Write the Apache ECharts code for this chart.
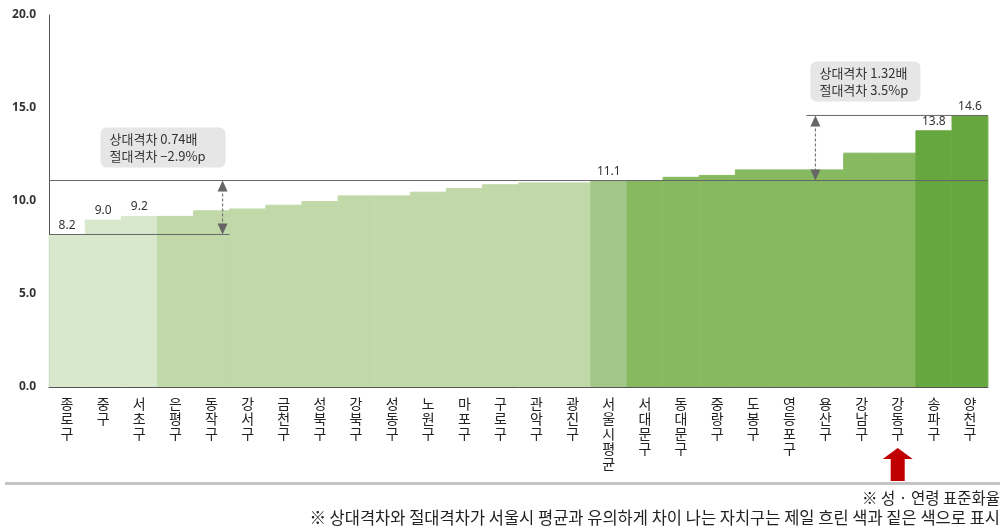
<!DOCTYPE html>
<html>
<head>
<meta charset="utf-8">
<script src="https://cdn.jsdelivr.net/npm/echarts@6/dist/echarts.min.js"></script>
<style>
html,body{margin:0;padding:0;background:#fff;}
#c{width:1007px;height:529px;}
</style>
</head>
<body>
<div id="c"></div>
<script>
const categories = ['종로구','중구','서초구','은평구','동작구','강서구','금천구','성북구','강북구','성동구','노원구','마포구','구로구','관악구','광진구','서울시평균','서대문구','동대문구','중랑구','도봉구','영등포구','용산구','강남구','강동구','송파구','양천구'];
const values = [8.2,9.0,9.2,9.2,9.5,9.6,9.8,10.0,10.3,10.3,10.5,10.7,10.9,11.0,11.0,11.1,11.1,11.3,11.4,11.7,11.7,11.7,12.6,12.6,13.8,14.6];
// colour group per bar: 0 lightest, 1 light, 2 average, 3 mid, 4 dark
const colorGroup = [0,0,0,1,1,1,1,1,1,1,1,1,1,1,1,2,3,3,3,3,3,3,3,3,4,4];
const labeled = ['종로구','중구','서초구','서울시평균','송파구','양천구'];
const yTicks = [0,5,10,15,20];
const seoulAvg = 11.1;
const lowGap = {from: 8.2, text: '상대격차 0.74배\n절대격차 −2.9%p'};
const highGap = {from: 14.6, text: '상대격차 1.32배\n절대격차 3.5%p'};
const note1 = '※ 성 · 연령 표준화율';
const note2 = '※ 상대격차와 절대격차가 서울시 평균과 유의하게 차이 나는 자치구는 제일 흐린 색과 짙은 색으로 표시';

const palette = ['#d8e8cc','#c1d9a9','#a3c78a','#87ba60','#66a83f'];

const chart = echarts.init(document.getElementById('c'));
const data = values.map((v,i)=>({
  value: v,
  itemStyle: {color: palette[colorGroup[i]], borderColor: palette[colorGroup[i]], borderWidth: 1},
  label: {show: labeled.includes(categories[i])}
}));

chart.setOption({
  animation: false,
  grid: {left: 49, right: 19, top: 15, bottom: 142},
  xAxis: {
    type: 'category',
    data: categories,
    axisLine: {show: true, lineStyle: {color: '#555', width: 1}},
    axisTick: {show: false},
    axisLabel: {
      interval: 0, margin: 9,
      fontFamily: 'Noto Sans CJK KR', fontSize: 14, color: '#222', lineHeight: 15,
      formatter: v => v.split('').join('\n')
    }
  },
  yAxis: {
    type: 'value', min: yTicks[0], max: yTicks[yTicks.length-1], interval: 5,
    axisLine: {show: true, lineStyle: {color: '#555', width: 1}},
    axisTick: {show: false},
    splitLine: {show: false},
    axisLabel: {margin: 13, fontFamily: 'Noto Sans', fontSize: 12, color: '#333', fontWeight: 'bold',
      formatter: v => v.toFixed(1)}
  },
  series: [{
    type: 'bar',
    data: data,
    barWidth: '102%',
    label: {
      position: 'top', distance: 2,
      fontFamily: 'Noto Sans', fontSize: 12, color: '#333',
      backgroundColor: '#fff', padding: [1,3],
      formatter: p => p.value.toFixed(1)
    }
  }]
});

function px(i, v){ return chart.convertToPixel({xAxisIndex:0, yAxisIndex:0}, [i, v]); }
const band = px(1,0)[0] - px(0,0)[0];
const left = px(0,0)[0] - band/2;
const right = px(categories.length-1,0)[0] + band/2;
const yBase = px(0,0)[1];
const yAvg = px(0, seoulAvg)[1];

function arrow(x, y1, y2){
  const items = [];
  items.push({type:'line', z:100, shape:{x1:x,y1:y1+8,x2:x,y2:y2-8}, style:{stroke:'#777', lineWidth:1.2, lineDash:[3,2]}});
  items.push({type:'polygon', z:100, shape:{points:[[x,y1],[x-5,y1+11],[x+5,y1+11]]}, style:{fill:'#666'}});
  items.push({type:'polygon', z:100, shape:{points:[[x,y2],[x-5,y2-11],[x+5,y2-11]]}, style:{fill:'#666'}});
  return items;
}
function box(x, y, w, h, text){
  return [
    {type:'rect', z:100, shape:{x:x,y:y,width:w,height:h,r:6}, style:{fill:'#e6e6e6'}},
    {type:'text', z:101, x:x+9, y:y+h/2, style:{text:text, fontFamily:'Noto Sans CJK KR', fontSize:13, fill:'#333', lineHeight:17, verticalAlign:'middle', align:'left'}}
  ];
}

const iLow = categories.indexOf('동작구');
const yLow = px(0, lowGap.from)[1];
const xLowEnd = px(iLow,0)[0] + band/2;
const xLowArrow = xLowEnd - 7;

const iHigh = categories.indexOf('용산구');
const yHigh = px(0, highGap.from)[1];
const xHighStart = px(iHigh,0)[0] - band/2;
const xHighArrow = xHighStart + 8;

const iRed = categories.indexOf('강동구');
const xr = px(iRed,0)[0];

const g = [];
g.push({type:'line', z:100, shape:{x1:left,y1:yAvg,x2:right,y2:yAvg}, style:{stroke:'#666', lineWidth:1}});
g.push({type:'line', z:100, shape:{x1:left,y1:yLow,x2:xLowEnd,y2:yLow}, style:{stroke:'#666', lineWidth:1}});
g.push({type:'line', z:100, shape:{x1:xHighStart-1,y1:yHigh,x2:right,y2:yHigh}, style:{stroke:'#666', lineWidth:1}});
g.push(...arrow(xLowArrow, yAvg, yLow));
g.push(...arrow(xHighArrow, yHigh, yAvg));
g.push(...box(xLowArrow-122, yAvg-53, 125, 40, lowGap.text));
g.push(...box(xHighArrow-5, yHigh-54, 110, 40, highGap.text));
// bottom gray rule
g.push({type:'rect', z:100, shape:{x:5,y:yBase+95,width:995,height:3}, style:{fill:'#c4c4c4'}});
// red arrow
g.push({type:'polygon', z:101, shape:{points:[[xr,yBase+61],[xr+15,yBase+72],[xr+7,yBase+72],[xr+7,yBase+94],[xr-7,yBase+94],[xr-7,yBase+72],[xr-15,yBase+72]]}, style:{fill:'#c00000'}});
g.push({type:'text', z:100, x:1000, y:yBase+111, style:{text:note1, fontFamily:'Noto Sans CJK KR', fontSize:15.5, fill:'#222', align:'right', verticalAlign:'middle'}});
g.push({type:'text', z:100, x:1000, y:yBase+131, style:{text:note2, fontFamily:'Noto Sans CJK KR', fontSize:16.5, fill:'#222', align:'right', verticalAlign:'middle'}});

chart.setOption({graphic: g});
</script>
</body>
</html>
